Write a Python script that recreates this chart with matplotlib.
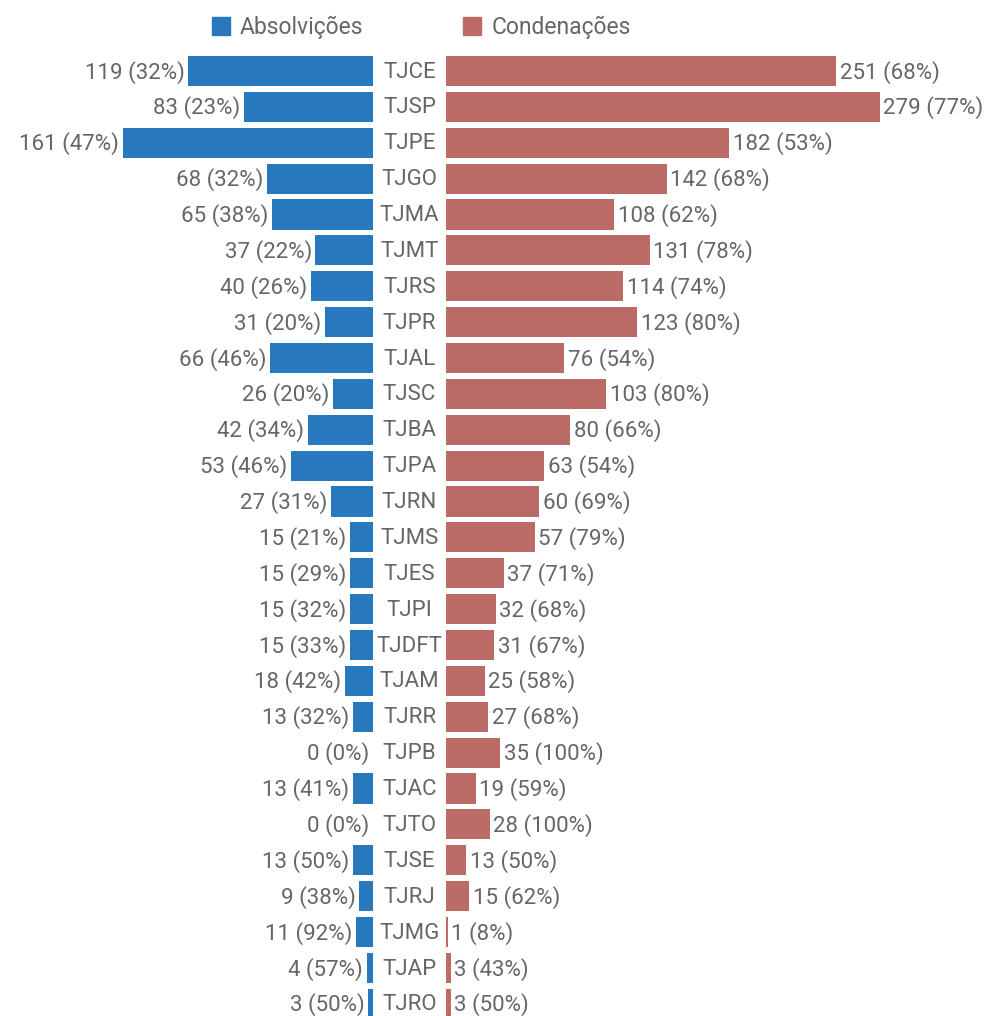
import matplotlib
matplotlib.use("Agg")
import matplotlib.pyplot as plt
from matplotlib.patches import Rectangle

courts = ["TJCE", "TJSP", "TJPE", "TJGO", "TJMA", "TJMT", "TJRS", "TJPR", "TJAL",
          "TJSC", "TJBA", "TJPA", "TJRN", "TJMS", "TJES", "TJPI", "TJDFT", "TJAM",
          "TJRR", "TJPB", "TJAC", "TJTO", "TJSE", "TJRJ", "TJMG", "TJAP", "TJRO"]
absolvicoes = [119, 83, 161, 68, 65, 37, 40, 31, 66, 26, 42, 53, 27, 15, 15, 15, 15,
               18, 13, 0, 13, 0, 13, 9, 11, 4, 3]
abs_pct = [32, 23, 47, 32, 38, 22, 26, 20, 46, 20, 34, 46, 31, 21, 29, 32, 33,
           42, 32, 0, 41, 0, 50, 38, 92, 57, 50]
condenacoes = [251, 279, 182, 142, 108, 131, 114, 123, 76, 103, 80, 63, 60, 57, 37,
               32, 31, 25, 27, 35, 19, 28, 13, 15, 1, 3, 3]
cond_pct = [68, 77, 53, 68, 62, 78, 74, 80, 54, 80, 66, 54, 69, 79, 71, 68, 67,
            58, 68, 100, 59, 100, 50, 62, 8, 43, 50]

BLUE = "#2878bd"
RED = "#bc6a66"
TXT = "#666666"
FONT = "Roboto"
FS = 16

W, H = 985, 1016
fig = plt.figure(figsize=(W / 100, H / 100), dpi=100)

scale = 1.555  # px per unit
row_px = 35.88
top_px = 53
left_edge = 373
right_start = 446

ax_l = fig.add_axes([0, 0, left_edge / W, (H - top_px) / H])
ax_r = fig.add_axes([right_start / W, 0, (W - right_start) / W, (H - top_px) / H])

n = len(courts)
ylo = -0.5 + (H - top_px) / row_px
y = list(range(n))

ax_l.barh(y, absolvicoes, height=0.84, color=BLUE)
ax_l.set_xlim(left_edge / scale, 0)
ax_r.barh(y, condenacoes, height=0.84, color=RED)
ax_r.set_xlim(0, (W - right_start) / scale)

for ax in (ax_l, ax_r):
    ax.set_ylim(ylo, -0.5)
    ax.axis("off")

gap = 2.3
dy = 0.03
for i in range(n):
    ax_l.text(absolvicoes[i] + gap, i + dy, f"{absolvicoes[i]} ({abs_pct[i]}%)",
              ha="right", va="center", color=TXT, fontsize=FS, family=FONT)
    ax_r.text(condenacoes[i] + gap, i + dy, f"{condenacoes[i]} ({cond_pct[i]}%)",
              ha="left", va="center", color=TXT, fontsize=FS, family=FONT)
    ax_l.annotate(courts[i], xy=(1, i + dy), xycoords=("axes fraction", "data"),
                  xytext=((right_start - left_edge) / 2 * 0.72, 0),
                  textcoords="offset points", ha="center", va="center",
                  color=TXT, fontsize=FS, family=FONT, annotation_clip=False)

# legend
leg_y = 1 - 27 / H
sq = 18
fig.patches.append(Rectangle((212 / W, (H - 35) / H), sq / W, sq / H,
                             transform=fig.transFigure, color=BLUE))
fig.text(240 / W, leg_y, "Absolvições", ha="left", va="center",
         color=TXT, fontsize=FS + 0.5, family=FONT)
fig.patches.append(Rectangle((463 / W, (H - 35) / H), sq / W, sq / H,
                             transform=fig.transFigure, color=RED))
fig.text(492 / W, leg_y, "Condenações", ha="left", va="center",
         color=TXT, fontsize=FS + 0.5, family=FONT)

fig.savefig("out.png", dpi=100)
